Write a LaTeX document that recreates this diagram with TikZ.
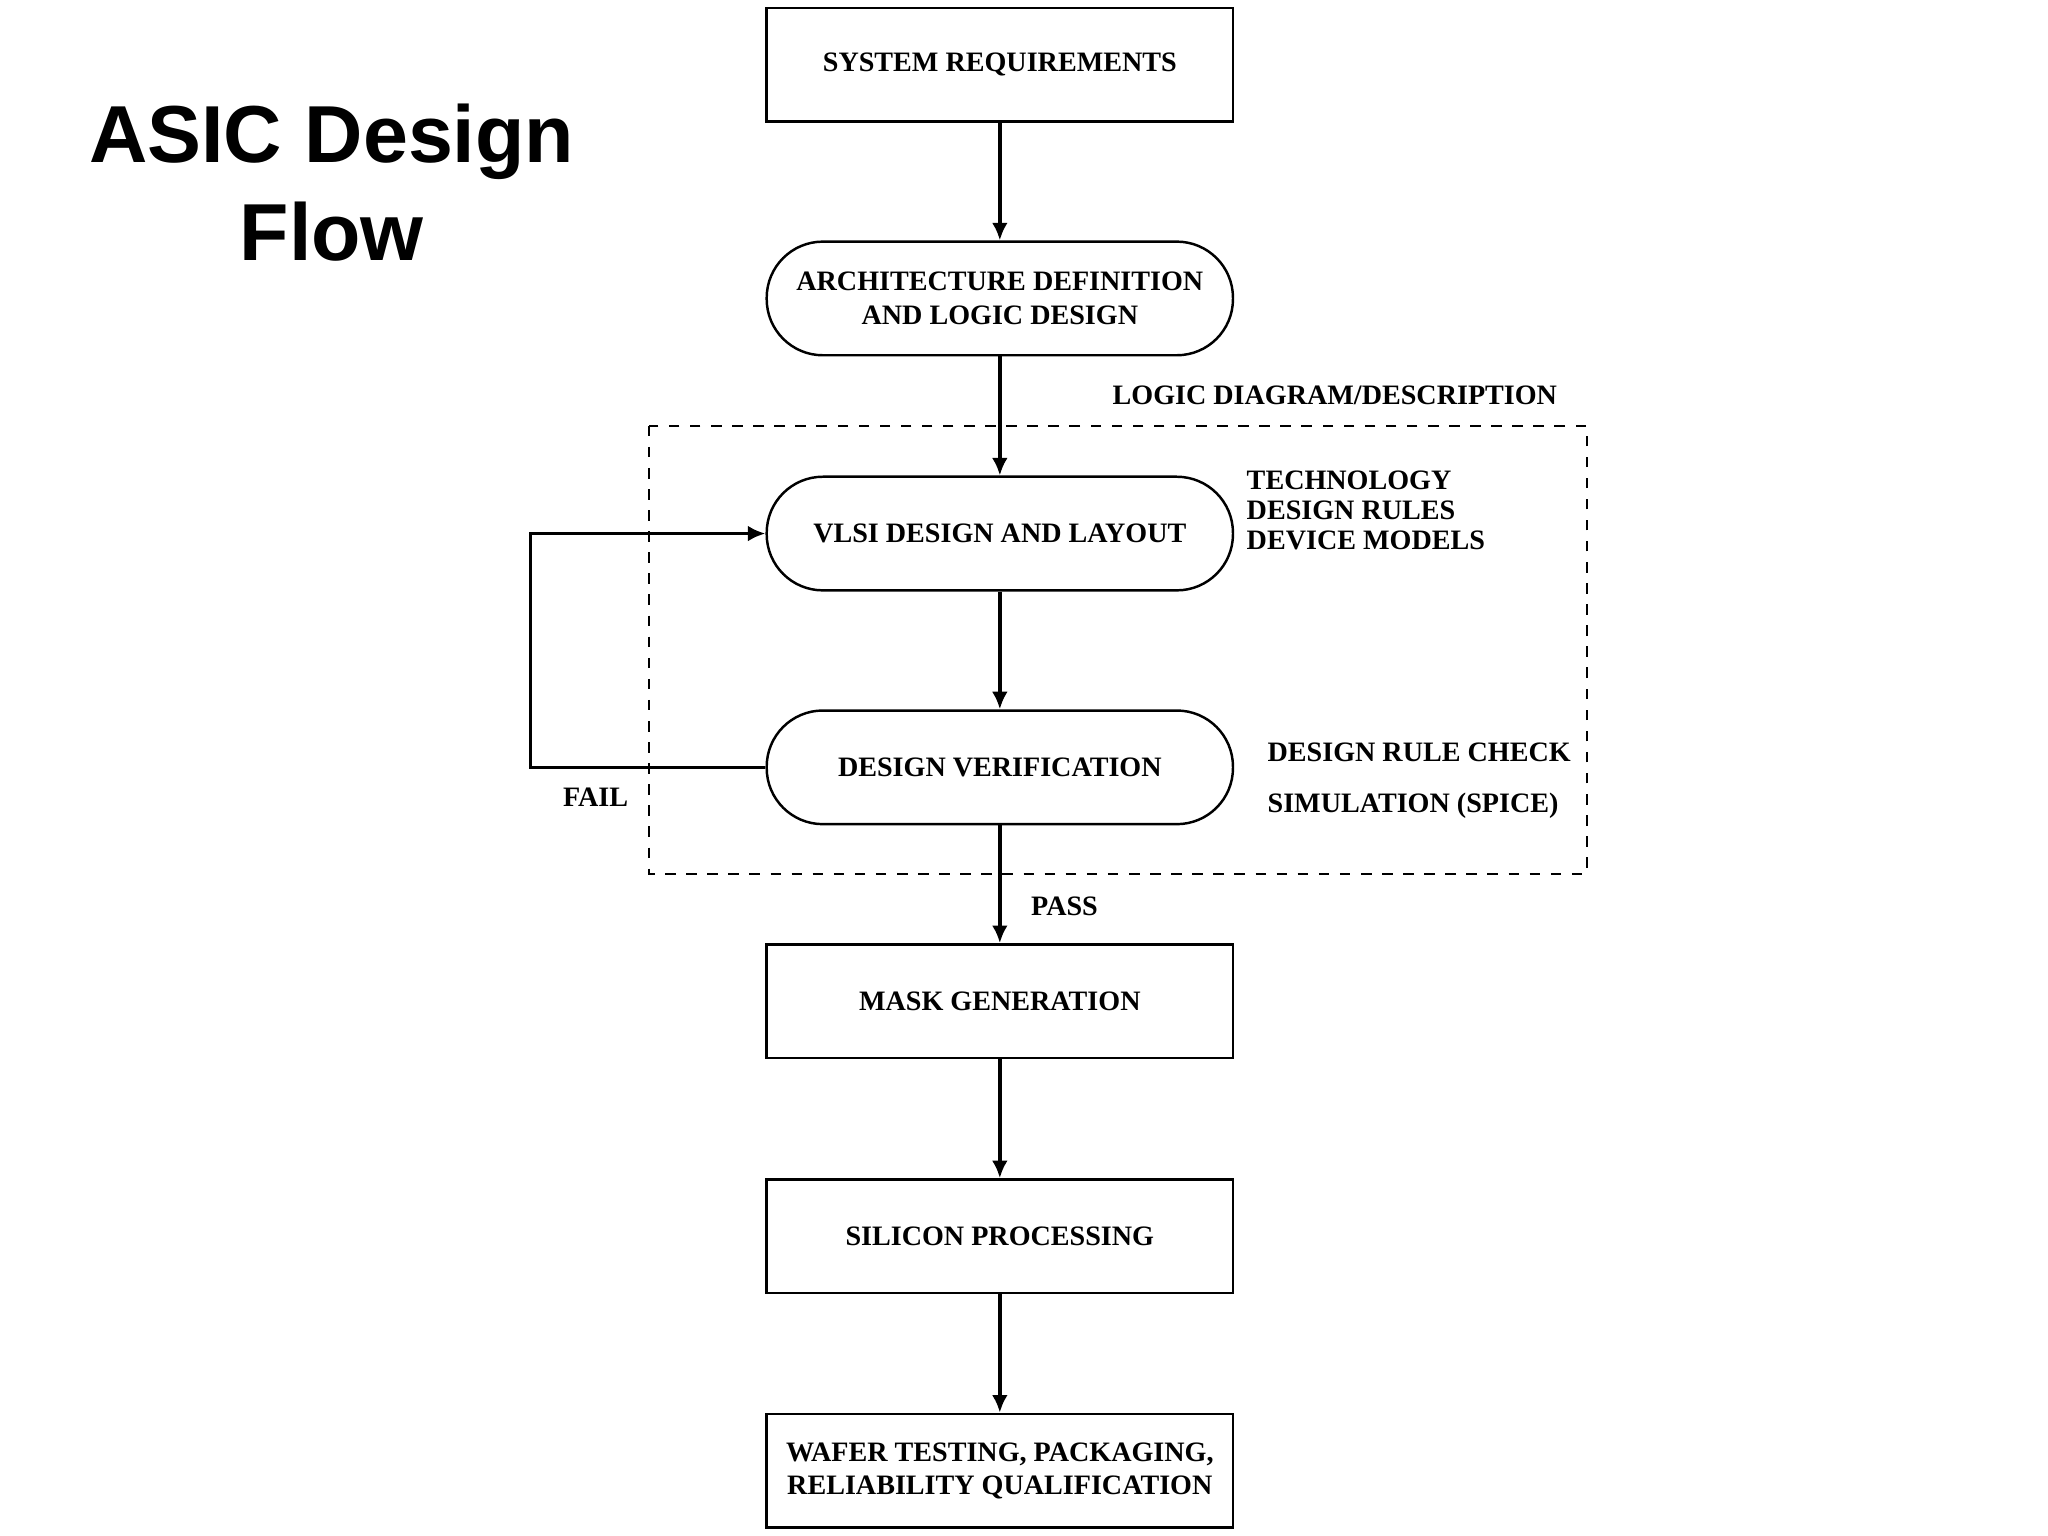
\documentclass[tikz,border=0pt]{standalone}
\usepackage{fontspec}
\setmainfont{Liberation Serif}
\newfontfamily\titlefont{Liberation Sans}
\usetikzlibrary{arrows.meta}
\begin{document}
\begin{tikzpicture}[x=0.01306cm,y=-0.01306cm,
  box/.style={draw,line width=0.7pt,minimum width=357*0.01306cm,minimum height=87*0.01306cm,
    align=center,font=\fontsize{8pt}{9.5pt}\selectfont\bfseries,inner sep=0pt},
  pill/.style={box,rounded corners=43*0.01306cm},
  lbl/.style={font=\fontsize{8pt}{9.5pt}\selectfont\bfseries,inner sep=0pt},
  arr/.style={line width=1pt,-{Latex[length=5pt,width=4.5pt]}}]
\useasboundingbox (0,0) rectangle (1568,1176);
\node[font=\titlefont\fontsize{23pt}{28pt}\selectfont\bfseries,align=center] (title) at (254,140) {ASIC Design\\Flow};
\node[box] (sys) at (765.5,49.5) {SYSTEM REQUIREMENTS};
\node[pill] (arch) at (765.5,228.5) {ARCHITECTURE DEFINITION\\AND LOGIC DESIGN};
\node[pill] (vlsi) at (765.5,408.5) {VLSI DESIGN AND LAYOUT};
\node[pill] (dv) at (765.5,587.5) {DESIGN VERIFICATION};
\node[box] (mask) at (765.5,766.5) {MASK GENERATION};
\node[box] (sil) at (765.5,946.5) {SILICON PROCESSING};
\node[box] (wafer) at (765.5,1126) {WAFER TESTING, PACKAGING,\\RELIABILITY QUALIFICATION};
\draw[dashed,line width=0.6pt] (497,326) rectangle (1215,669);
\draw[arr] (sys) -- (arch);
\draw[arr] (arch) -- (vlsi);
\draw[arr] (vlsi) -- (dv);
\draw[arr] (dv) -- (mask);
\draw[arr] (mask) -- (sil);
\draw[arr] (sil) -- (wafer);
\coordinate (fb) at (406,0);
\draw[arr] (dv.west) -- (fb |- dv.west) -- (fb |- vlsi.west) -- (vlsi.west);
\node[lbl] (fail) at (456,610) {FAIL};
\node[lbl] (pass) at (815,694) {PASS};
\node[lbl] (ldd) at (1022,303) {LOGIC DIAGRAM/DESCRIPTION};
\node[lbl,anchor=west,align=left] (tech) at (954,391) {TECHNOLOGY\\[-1pt] DESIGN RULES\\[-1pt] DEVICE MODELS};
\node[lbl,anchor=west,align=left] (drc) at (970,598) {DESIGN RULE CHECK\\[5pt]SIMULATION (SPICE)};
\end{tikzpicture}
\end{document}
